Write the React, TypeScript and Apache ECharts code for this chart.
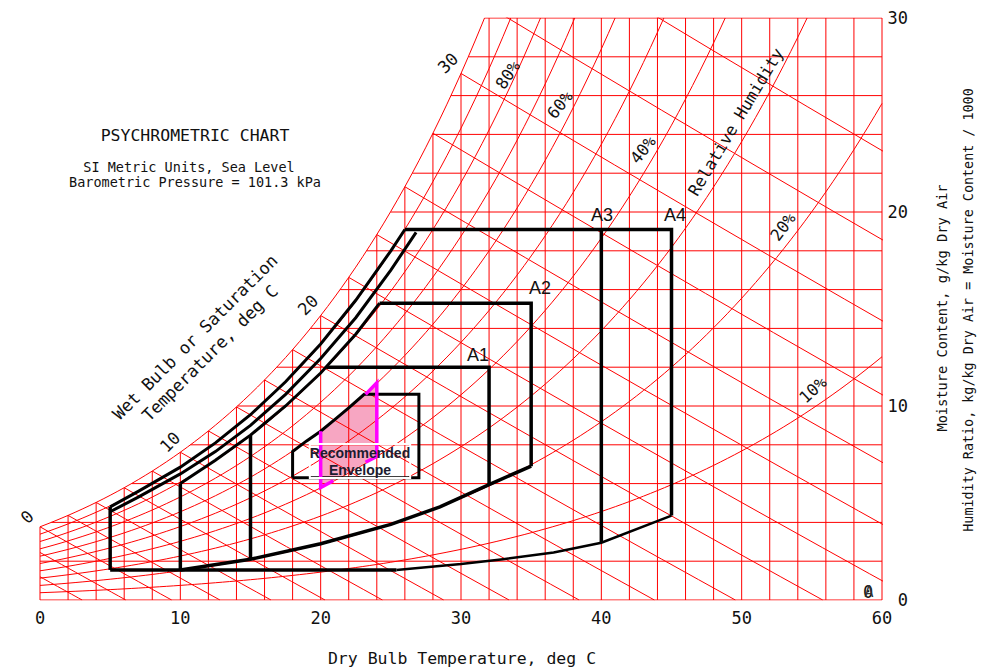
import React, { useEffect, useRef } from "react";
import * as echarts from "echarts";

// ---------- chart structure (psychrometric grid levels) ----------
const DRY_BULB_LINES = [0, 2, 4, 6, 8, 10, 12, 14, 16, 18, 20, 22, 24, 26, 28, 30, 32, 34, 36, 38, 40, 42, 44, 46, 48, 50, 52, 54, 56, 58, 60];
const MOISTURE_LINES = [0, 2, 4, 6, 8, 10, 12, 14, 16, 18, 20, 22, 24, 26, 28, 30];
const RH_LEVELS = [0.1, 0.2, 0.3, 0.4, 0.5, 0.6, 0.7, 0.8, 0.9];
const WET_BULB_LINES = [-4, -2, 0, 2, 4, 6, 8, 10, 12, 14, 16, 18, 20, 22, 24, 26, 28, 30, 32, 34];

// ---------- envelopes: [dry bulb degC, moisture g/kg] ----------
const A34_LEFT: number[][] = [[5, 1.55], [5, 4.8]];
const A4_RH90: number[][] = [[5, 4.8], [7, 5.6], [10, 6.85], [12.5, 8.1], [15, 9.55], [17.5, 11.25], [20, 13.2], [22.5, 15.45], [25, 18.0], [26.0, 19.1]];
const A4_TOP_RIGHT: number[][] = [[26.0, 19.1], [45, 19.1], [45, 4.35]];
const A34_BOTTOM_FLAT: number[][] = [[5, 1.55], [25.4, 1.55]];
const A34_BOTTOM_CURVE: number[][] = [[25.4, 1.55], [30, 1.85], [33, 2.1], [36.6, 2.45], [40, 2.95], [45, 4.35]];
const A3_RIGHT: number[][] = [[40, 2.95], [40, 19.1]];
const A3_RH85: number[][] = [[5, 4.55], [7, 5.3], [10, 6.5], [12.5, 7.65], [15, 9.0], [17.5, 10.6], [20, 12.45], [22.5, 14.55], [25, 17.0], [26.8, 18.95]];
const A2_LEFT: number[][] = [[10, 1.55], [10, 6.0]];
const A12_RH80: number[][] = [[10, 6.0], [12.5, 7.2], [15, 8.5], [17.5, 10.0], [20, 11.7], [22.5, 13.7], [24.2, 15.3]];
const A2_TOP_RIGHT: number[][] = [[24.2, 15.3], [35, 15.3], [35, 6.9]];
const A12_RH20: number[][] = [[10, 1.55], [15, 2.1], [20, 2.9], [25, 3.9], [28.5, 4.8], [32, 5.95], [35, 6.9]];
const A1_LEFT: number[][] = [[15, 2.1], [15, 8.5]];
const A1_TOP_RIGHT: number[][] = [[20.4, 12.0], [32, 12.0], [32, 5.95]];
const RECOMMENDED: number[][] = [[18, 6.3], [18, 7.65], [19, 8.2], [20, 8.7], [21, 9.3], [22, 9.9], [23.1, 10.6], [27, 10.6], [27, 6.3], [18, 6.3]];
const PINK_ZONE: number[][] = [[20, 5.8], [20, 8.7], [21, 9.3], [22, 9.9], [23, 10.5], [24, 11.2], [24, 7.4], [22, 6.6], [20, 5.8]];
const MAGENTA_LEFT: number[][] = [[20.9, 6.15], [20, 5.8], [20, 8.7]];
const MAGENTA_RIGHT: number[][] = [[23.2, 10.6], [24, 11.2], [24, 7.4], [23.2, 7.1]];

const FONT = "'DejaVu Sans Mono', 'Liberation Mono', monospace";
const ARIAL = "'Liberation Sans', Arial, sans-serif";

// ---------- psychrometrics (sea level) ----------
const P = 101.325;
const pws = (t: number) => 0.61094 * Math.exp((17.625 * t) / (t + 243.04));
const tFromP = (p: number) => {
  const a = Math.log(p / 0.61094);
  return (243.04 * a) / (17.625 - a);
};
const wAt = (t: number, rh: number) => {
  const pw = rh * pws(t);
  return (622 * pw) / (P - pw);
};
const pwFromW = (w: number) => (w * P) / (622 + w);
const tAtW = (w: number, rh: number) => tFromP(pwFromW(w) / rh);
const wWet = (t: number, twb: number) => {
  const ws = wAt(twb, 1) / 1000;
  return (1000 * ((2501 - 2.326 * twb) * ws - 1.006 * (t - twb))) / (2501 + 1.86 * t - 4.186 * twb);
};

const redLine = (data: number[][]) => ({
  type: "line",
  data,
  symbol: "none",
  silent: true,
  z: 2,
  lineStyle: { color: "#ff0000", width: 1 },
});

const blackLine = (data: number[][], width = 3.5, color = "#000") => ({
  type: "line",
  data,
  symbol: "none",
  silent: true,
  z: 5,
  clip: false,
  lineStyle: { color, width, join: "miter", cap: "butt" },
});

function buildGrid() {
  const s: any[] = [];
  DRY_BULB_LINES.forEach((t) => {
    s.push(redLine([[t, 0], [t, Math.min(30, wAt(t, 1))]]));
  });
  MOISTURE_LINES.forEach((w) => {
    const t0 = w <= 0 ? 0 : Math.max(0, tAtW(w, 1));
    s.push(redLine([[t0, w], [60, w]]));
  });
  [...RH_LEVELS, 1].forEach((rh) => {
    const tEnd = Math.min(60, tAtW(30, rh));
    const pts: number[][] = [];
    for (let t = 0; t < tEnd; t += 0.5) pts.push([t, wAt(t, rh)]);
    pts.push([tEnd, wAt(tEnd, rh)]);
    s.push(redLine(pts));
  });
  WET_BULB_LINES.forEach((twb) => {
    const ws = wAt(twb, 1) / 1000;
    const tEnd = twb + ((2501 - 2.326 * twb) * ws) / 1.006;
    const t0 = Math.max(0, twb);
    const pts: number[][] = [];
    const n = 12;
    for (let i = 0; i <= n; i++) {
      const t = t0 + ((tEnd - t0) * i) / n;
      pts.push([t, Math.max(0, wWet(t, twb))]);
    }
    s.push(redLine(pts));
  });
  return s;
}

const txt = (text: string, x: number, y: number, size: number, rot = 0, extra: any = {}) => ({
  type: "text",
  x,
  y,
  rotation: (rot * Math.PI) / 180,
  z: 100,
  silent: true,
  style: {
    text,
    fontSize: size,
    fontFamily: FONT,
    fill: "#111",
    align: "center",
    verticalAlign: "middle",
    ...extra,
  },
});

export default function App() {
  const ref = useRef<HTMLDivElement>(null);
  useEffect(() => {
    if (!ref.current) return;
    const chart = echarts.init(ref.current, undefined, { renderer: "svg" });
    const series: any[] = [
      {
        type: "custom",
        silent: true,
        z: 1,
        data: [[0, 0]],
        clip: false,
        renderItem: (_p: any, api: any) => ({
          type: "polygon",
          shape: { points: PINK_ZONE.map((p) => api.coord(p)) },
          style: { fill: "#f7a6c2" },
        }),
      },
      ...buildGrid(),
      blackLine(A34_LEFT),
      blackLine(A4_RH90, 3),
      blackLine(A4_TOP_RIGHT),
      blackLine(A34_BOTTOM_FLAT),
      blackLine(A34_BOTTOM_CURVE, 2.5),
      blackLine(A3_RIGHT),
      blackLine(A3_RH85, 3),
      blackLine(A2_LEFT),
      blackLine(A12_RH80, 3),
      blackLine(A2_TOP_RIGHT),
      blackLine(A12_RH20, 3.5),
      blackLine(A1_LEFT),
      blackLine(A1_TOP_RIGHT),
      blackLine(RECOMMENDED, 3),
      blackLine(MAGENTA_LEFT, 3.5, "#ff00ff"),
      blackLine(MAGENTA_RIGHT, 3.5, "#ff00ff"),
    ];
    chart.setOption({
      animation: false,
      backgroundColor: "#fff",
      grid: { left: 40, top: 18, width: 842, height: 582, containLabel: false },
      xAxis: {
        type: "value",
        min: 0,
        max: 60,
        interval: 10,
        axisLine: { show: false },
        axisTick: { show: false },
        splitLine: { show: false },
        axisLabel: { color: "#111", fontSize: 17, fontFamily: FONT, margin: 9 },
      },
      yAxis: {
        type: "value",
        position: "right",
        min: 0,
        max: 30,
        interval: 10,
        axisLine: { show: false },
        axisTick: { show: false },
        splitLine: { show: false },
        axisLabel: { color: "#111", fontSize: 17, fontFamily: FONT, margin: 26, align: "right" },
      },
      series,
      graphic: [
        txt("PSYCHROMETRIC CHART", 195, 135, 16.5),
        txt("SI Metric Units, Sea Level", 189, 167, 13.5),
        txt("Barometric Pressure = 101.3 kPa", 195, 182, 13.5),
        txt("Wet Bulb or Saturation", 195, 337, 17, 45),
        txt("Temperature, deg C", 210, 353, 17, 45),
        txt("0", 27, 517, 17, 45),
        txt("10", 170, 442, 17, 45),
        txt("20", 308, 305, 17, 45),
        txt("30", 448, 63, 17, 45),
        txt("80%", 508, 75, 16.5, 56),
        txt("60%", 560, 105, 16.5, 51),
        txt("40%", 643, 150, 16.5, 51),
        txt("Relative Humidity", 736, 122, 16.5, 59),
        txt("20%", 783, 227, 16.5, 53),
        txt("10%", 813, 390, 16.5, 43),
        txt("A1", 478, 355, 18, 0, { fontFamily: ARIAL }),
        txt("A2", 540, 288, 18, 0, { fontFamily: ARIAL }),
        txt("A3", 602, 215, 18, 0, { fontFamily: ARIAL }),
        txt("A4", 675, 215, 18, 0, { fontFamily: ARIAL }),
        txt("Recommended\nEnvelope", 360, 461, 14, 0, {
          fontFamily: ARIAL,
          fontWeight: "bold",
          fill: "#1c1c30",
          lineHeight: 17,
          textBorderColor: "#ffffff",
          textBorderWidth: 2,
        }),
        txt("0", 868, 592, 17),
        txt("A", 869, 592, 15, 0, { fill: "#333" }),
        txt("Dry Bulb Temperature, deg C", 462, 658, 16.5),
        txt("Moisture Content, g/kg Dry Air", 942, 308, 13.7, 90),
        txt("Humidity Ratio, kg/kg Dry Air = Moisture Content / 1000", 968, 310, 13.4, 90),
      ],
    });
    return () => chart.dispose();
  }, []);
  return (
    <div
      ref={ref}
      style={{ position: "fixed", left: 0, top: 0, width: 985, height: 670, background: "#fff" }}
    />
  );
}
